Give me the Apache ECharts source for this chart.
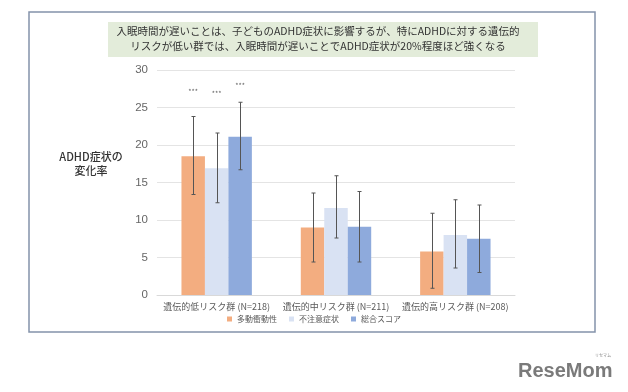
<!DOCTYPE html>
<html><head><meta charset="utf-8">
<script src="https://cdn.jsdelivr.net/npm/echarts@6/dist/echarts.min.js"></script>
<style>html,body{margin:0;padding:0;background:#fff}#c{width:628px;height:392px}</style>
</head><body><div id="c"></div>
<script>
const categories = ['遺伝的低リスク群 (N=218)', '遺伝的中リスク群 (N=211)', '遺伝的高リスク群 (N=208)'];
const seriesNames = ['多動衝動性', '不注意症状', '総合スコア'];
const hyper = [18.5, 9.0, 5.8];
const inatt = [16.9, 11.6, 8.0];
const total = [21.1, 9.1, 7.5];
const hyperLow = [13.4, 4.4, 0.9];
const hyperHigh = [23.8, 13.6, 10.9];
const inattLow = [12.3, 7.6, 3.6];
const inattHigh = [21.6, 15.9, 12.7];
const totalLow = [16.7, 4.4, 3.0];
const totalHigh = [25.7, 13.8, 12.0];
const sigMarks = [['***', '', ''], ['***', '', ''], ['***', '', '']]; // per series, per category
const sigLevel = [[27.1, 0, 0], [26.9, 0, 0], [28.0, 0, 0]];
const yTicks = [0, 5, 10, 15, 20, 25, 30];
const colors = ['#f3ad80', '#d9e2f3', '#8eaadc'];

const values = [hyper, inatt, total];
const lows = [hyperLow, inattLow, totalLow];
const highs = [hyperHigh, inattHigh, totalHigh];
const GROUP_FRAC = 0.59;

function offsetFor(si, catW) {
  const bw = catW * GROUP_FRAC / 3;
  return (si - 1) * bw;
}

const chart = echarts.init(document.getElementById('c'), null, {renderer: 'canvas'});
const series = [];
values.forEach((v, si) => {
  series.push({
    name: seriesNames[si], type: 'bar', data: v, barGap: '0%', barCategoryGap: '41%',
    itemStyle: {color: colors[si]}, z: 2
  });
});
values.forEach((v, si) => {
  series.push({
    type: 'custom', z: 5, silent: true,
    data: categories.map((c, i) => [i, lows[si][i], highs[si][i]]),
    renderItem: function (params, api) {
      const catW = api.size([1, 0])[0];
      const off = offsetFor(si, catW);
      const lo = api.coord([api.value(0), api.value(1)]);
      const hi = api.coord([api.value(0), api.value(2)]);
      const x = Math.round(lo[0] + off) + 0.5;
      const cap = 2;
      const st = {stroke: '#555', lineWidth: 1};
      return {type: 'group', children: [
        {type: 'line', shape: {x1: x, y1: lo[1], x2: x, y2: hi[1]}, style: st},
        {type: 'line', shape: {x1: x - cap, y1: lo[1], x2: x + cap, y2: lo[1]}, style: st},
        {type: 'line', shape: {x1: x - cap, y1: hi[1], x2: x + cap, y2: hi[1]}, style: st}
      ]};
    }
  });
  series.push({
    type: 'custom', z: 5, silent: true,
    data: categories.map((c, i) => [i, sigLevel[si][i], sigMarks[si][i]]),
    renderItem: function (params, api) {
      const txt = sigMarks[si][params.dataIndex];
      if (!txt) return null;
      const catW = api.size([1, 0])[0];
      const off = offsetFor(si, catW);
      const p = api.coord([api.value(0), api.value(1)]);
      return {type: 'text', style: {text: txt, x: p[0] + off, y: p[1], align: 'center', verticalAlign: 'middle',
        fill: '#666', font: '7px "Noto Sans CJK JP"'}};
    }
  });
});

chart.setOption({
  animation: false,
  backgroundColor: '#fff',
  textStyle: {fontFamily: '"Noto Sans CJK JP", sans-serif'},
  grid: {left: 157, right: 113, top: 70, bottom: 97},
  legend: {
    data: seriesNames, left: 'center', top: 310, icon: 'rect', itemWidth: 5, itemHeight: 5, itemGap: 12,
    textStyle: {fontSize: 8, color: '#595959', fontFamily: '"Noto Sans CJK JP"'}
  },
  xAxis: {
    type: 'category', data: categories,
    axisLine: {show: true, lineStyle: {color: '#d9d9d9'}}, axisTick: {show: false},
    axisLabel: {fontSize: 9, color: '#595959', margin: 7, interval: 0}
  },
  yAxis: {
    type: 'value', min: 0, max: 30, interval: 5,
    axisLine: {show: false}, axisTick: {show: false},
    splitLine: {lineStyle: {color: '#e4e4e4'}},
    axisLabel: {fontSize: 11.5, color: '#666', margin: 9, fontFamily: '"Liberation Sans", sans-serif',
      formatter: v => yTicks.includes(v) ? String(v) : ''}
  },
  graphic: [
    {type: 'rect', shape: {x: 29, y: 12, width: 566, height: 320}, style: {fill: 'none', stroke: '#8493aa', lineWidth: 1.5}, z: 0},
    {type: 'rect', shape: {x: 108, y: 22, width: 430, height: 35}, style: {fill: '#e3ecda'}, z: 1},
    {type: 'text', x: 318, y: 39, style: {text: '入眠時間が遅いことは、子どものADHD症状に影響するが、特にADHDに対する遺伝的\nリスクが低い群では、入眠時間が遅いことでADHD症状が20%程度ほど強くなる',
      align: 'center', verticalAlign: 'middle', fill: '#333', font: '10.5px "Noto Sans CJK JP"', lineHeight: 15}, z: 2},
    {type: 'text', x: 91, y: 164, style: {text: 'ADHD症状の\n変化率', align: 'center', verticalAlign: 'middle',
      fill: '#333', font: '500 11px "Noto Sans CJK JP"', lineHeight: 14}, z: 2},
    {type: 'text', x: 518, y: 371, style: {text: 'ReseMom', align: 'left', verticalAlign: 'middle',
      fill: '#7a7a7a', font: 'bold 20px "Liberation Sans"'}, z: 2},
    {type: 'text', x: 603, y: 355, style: {text: 'リセマム', align: 'center', verticalAlign: 'middle',
      fill: '#888', font: '4px "Noto Sans CJK JP"'}, z: 2}
  ],
  series: series
});
</script></body></html>
